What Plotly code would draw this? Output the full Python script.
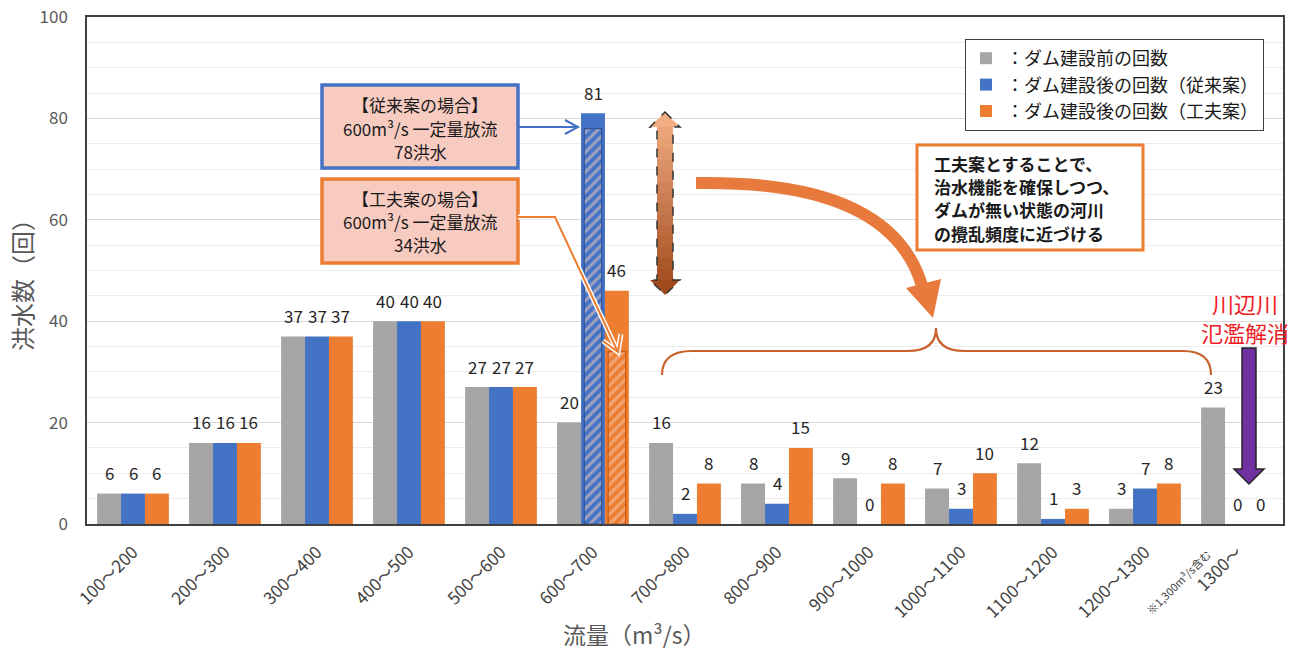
import plotly.graph_objects as go

# ---------------- data ----------------
categories = ["100～200", "200～300", "300～400", "400～500", "500～600", "600～700",
              "700～800", "800～900", "900～1000", "1000～1100", "1100～1200",
              "1200～1300", "1300～"]
before = [6, 16, 37, 40, 27, 20, 16, 8, 9, 7, 12, 3, 23]
after_conventional = [6, 16, 37, 40, 27, 81, 2, 4, 0, 3, 1, 7, 0]
after_improved = [6, 16, 37, 40, 27, 46, 8, 15, 8, 10, 3, 8, 0]
hatched_category = ["600～700"]
hatched_conventional = [78]
hatched_improved = [34]
series_names = ["：ダム建設前の回数", "：ダム建設後の回数（従来案）", "：ダム建設後の回数（工夫案）"]
y_ticks = [0, 20, 40, 60, 80, 100]
box1_lines = ["【従来案の場合】", "600m³/s 一定量放流", "78洪水"]
box2_lines = ["【工夫案の場合】", "600m³/s 一定量放流", "34洪水"]
message_lines = ["工夫案とすることで、", "治水機能を確保しつつ、", "ダムが無い状態の河川", "の攪乱頻度に近づける"]
red_lines = ["川辺川", "氾濫解消"]

# ---------------- style ----------------
FONT = "Noto Sans CJK JP"
GRAY = "#a5a5a5"
BLUE = "#4472c4"
ORANGE = "#ed7d31"
PINK = "#f8cbc1"
TXT = "#404040"

W, H = 1299, 652
L, R, T, B = 87, 1283, 17, 524
PW, PH = R - L, B - T


def pp(x, y):
    return ((x - L) / PW, (B - y) / PH)


NPTS = {"M": 1, "L": 1, "T": 1, "Q": 2, "S": 2, "C": 3}


def path(cmds):
    parts = []
    for cmd, pts in cmds:
        if cmd == "Z":
            parts.append("Z")
            continue
        n = NPTS[cmd]
        for k in range(0, len(pts), n):
            coords = " ".join("%.5f,%.5f" % pp(*p) for p in pts[k:k + n])
            parts.append(cmd + " " + coords)
    return " ".join(parts)


def ann(x, y, text, size, color, **kw):
    px, py = pp(x, y)
    d = dict(x=px, y=py, xref="paper", yref="paper", text=text, showarrow=False,
             xanchor="center", yanchor="middle",
             font=dict(family=FONT, size=size, color=color))
    d.update(kw)
    return d


fig = go.Figure()
BW = 0.26
offsets = [-1.5 * BW, -0.5 * BW, 0.5 * BW]
colors = [GRAY, BLUE, ORANGE]
series = [before, after_conventional, after_improved]
for k, (vals, off, col, name) in enumerate(zip(series, offsets, colors, series_names)):
    fig.add_trace(go.Bar(x=categories, y=vals, width=BW, offset=off, name=name,
                         legendgroup="g%d" % k,
                         marker=dict(color=col, line=dict(width=0))))

HW = 0.19
fig.add_trace(go.Bar(x=hatched_category, y=hatched_conventional, width=HW,
                     offset=offsets[1] + (BW - HW) / 2, showlegend=False,
                     marker=dict(color=BLUE, line=dict(color="#2f5597", width=1.2),
                                 pattern=dict(shape="/", fgcolor="#f6cdb9", size=7, solidity=0.45))))
fig.add_trace(go.Bar(x=hatched_category, y=hatched_improved, width=HW,
                     offset=offsets[2] + (BW - HW) / 2, showlegend=False,
                     marker=dict(color=ORANGE, line=dict(color="#c55a11", width=1.2),
                                 pattern=dict(shape="/", fgcolor="#f8cdb8", size=7, solidity=0.45))))

annotations = []
for vals, off in zip(series, offsets):
    for i, v in enumerate(vals):
        annotations.append(dict(x=i + off + BW / 2, y=v, xref="x", yref="y", text=str(v),
                                showarrow=False, yshift=21, xanchor="center", yanchor="middle",
                                font=dict(family=FONT, size=17, color="#262626")))

shapes = []


def rect(x0, y0, x1, y1, **kw):
    a, b = pp(x0, y0), pp(x1, y1)
    d = dict(type="rect", xref="paper", yref="paper", x0=a[0], y0=a[1], x1=b[0], y1=b[1])
    d.update(kw)
    return d


def pshape(cmds, **kw):
    d = dict(type="path", xref="paper", yref="paper", path=path(cmds))
    d.update(kw)
    return d


# callout boxes
shapes.append(rect(322, 85, 518, 168, fillcolor=PINK, line=dict(color=BLUE, width=3.5)))
shapes.append(rect(322, 179, 518, 263, fillcolor=PINK, line=dict(color=ORANGE, width=3.5)))
for line, yy in zip(box1_lines, [104, 128, 151]):
    annotations.append(ann(420, yy, line, 17, "#1a1a1a"))
for line, yy in zip(box2_lines, [198, 222, 245]):
    annotations.append(ann(420, yy, line, 17, "#1a1a1a"))

# blue arrow
shapes.append(pshape([("M", [(518, 127)]), ("L", [(577, 127)]),
                      ("M", [(565, 120)]), ("L", [(578, 127), (565, 134)])],
                     line=dict(color=BLUE, width=2)))

# orange connector with white outline
conn = [("M", [(518, 217)]), ("L", [(555, 217), (617, 350)]),
        ("M", [(603, 341)]), ("L", [(618, 352), (621, 334)])]
shapes.append(pshape(conn, line=dict(color="white", width=5)))
shapes.append(pshape(conn, line=dict(color=ORANGE, width=2)))

# gradient double arrow
cx, top, bot = 665, 112, 295
hb_top, hb_bot = 127, 280
sw, hw = 8, 15
c0, c1 = (242, 172, 130), (160, 74, 30)


def mix(t):
    return "rgb(%d,%d,%d)" % tuple(round(a + (b - a) * t) for a, b in zip(c0, c1))


n = 14
for k in range(n):
    ya = hb_top + (hb_bot - hb_top) * k / n - 0.3
    yb = hb_top + (hb_bot - hb_top) * (k + 1) / n + 0.3
    t = (k + 0.5) / n
    shapes.append(rect(cx - sw, ya, cx + sw, yb, fillcolor=mix(0.05 + 0.9 * t), line=dict(width=0)))
shapes.append(pshape([("M", [(cx, top)]), ("L", [(cx + hw, hb_top), (cx - hw, hb_top)]), ("Z", [])],
                     fillcolor=mix(0.0), line=dict(width=0)))
shapes.append(pshape([("M", [(cx, bot)]), ("L", [(cx + hw, hb_bot), (cx - hw, hb_bot)]), ("Z", [])],
                     fillcolor=mix(1.0), line=dict(width=0)))
shapes.append(pshape([("M", [(cx, top)]),
                      ("L", [(cx + hw, hb_top), (cx + sw, hb_top), (cx + sw, hb_bot),
                             (cx + hw, hb_bot), (cx, bot), (cx - hw, hb_bot),
                             (cx - sw, hb_bot), (cx - sw, hb_top), (cx - hw, hb_top)]),
                      ("Z", [])],
                     line=dict(color="#333333", width=1.5, dash="dash")))

# big curved arrow
shapes.append(pshape([("M", [(696, 183)]), ("C", [(815, 181), (900, 210), (922, 286)])],
                     line=dict(color="#e97a3e", width=12)))
shapes.append(pshape([("M", [(906, 288)]), ("L", [(941, 279), (933, 318)]), ("Z", [])],
                     fillcolor="#e97a3e", line=dict(width=0)))

# brace
shapes.append(pshape([("M", [(662, 375)]), ("Q", [(662, 351), (692, 351)]),
                      ("L", [(908, 351)]), ("Q", [(936, 351), (936, 328)]),
                      ("Q", [(936, 351), (964, 351)]), ("L", [(1183, 351)]),
                      ("Q", [(1211, 351), (1211, 375)])],
                     line=dict(color="#c8622a", width=2.2)))

# message box
shapes.append(rect(917, 145, 1143, 250, fillcolor="white", line=dict(color=ORANGE, width=3)))
for line, yy in zip(message_lines, [163, 186.5, 210, 233.5]):
    annotations.append(ann(932, yy, "<b>" + line + "</b>", 17, "#1a1a1a", xanchor="left"))

# red text and purple arrow
for line, yy in zip(red_lines, [303, 332]):
    annotations.append(ann(1245, yy, line, 22, "#ee1c25"))
shapes.append(pshape([("M", [(1242, 348)]),
                      ("L", [(1256, 348), (1256, 469), (1264, 469), (1249, 484),
                             (1234, 469), (1242, 469)]), ("Z", [])],
                     fillcolor="#7030a0", line=dict(color="#262626", width=1.5)))

# axis titles and note
annotations.append(ann(21, 279, "洪水数（回）", 24, "#595959", textangle=-90))
annotations.append(ann(634, 634, "流量（m³/s）", 23, "#595959"))
annotations.append(ann(1178, 582, "※1,300m³/s含む", 11, TXT, textangle=-45))

fig.update_layout(
    width=W, height=H,
    margin=dict(l=L, r=W - R, t=T, b=H - B, autoexpand=False),
    paper_bgcolor="white", plot_bgcolor="white",
    barmode="overlay",
    font=dict(family=FONT, color=TXT),
    showlegend=True,
    legend=dict(x=pp(1264, 39)[0], y=pp(1264, 39)[1], xanchor="right", yanchor="top",
                bgcolor="white", bordercolor="#404040", borderwidth=1,
                font=dict(family=FONT, size=18, color="#1a1a1a"),
                traceorder="grouped", tracegroupgap=0, itemwidth=30),
    xaxis=dict(type="category", categoryorder="array", categoryarray=categories,
               range=[-0.5, len(categories) - 0.5], tickangle=-45, automargin=False,
               tickfont=dict(family=FONT, size=17, color=TXT),
               showline=True, linecolor="#404040", linewidth=1.5, mirror=True,
               ticks="", ticklabelstandoff=10, showgrid=False),
    yaxis=dict(range=[0, 100], tickvals=y_ticks, ticktext=[str(v) for v in y_ticks],
               automargin=False,
               tickfont=dict(family=FONT, size=17, color="#595959"),
               showline=True, linecolor="#404040", linewidth=1.5, mirror=True,
               gridcolor="#d9d9d9", gridwidth=1, ticks="", ticklabelstandoff=14,
               minor=dict(dtick=5, showgrid=True, gridcolor="#ececec", gridwidth=1),
               zeroline=False),
    shapes=shapes,
    annotations=annotations,
)

fig.write_html("out.html")
